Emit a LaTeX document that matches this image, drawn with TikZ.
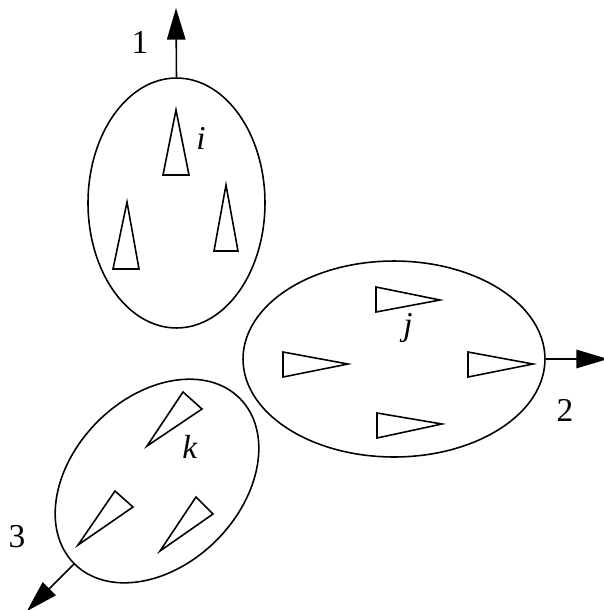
\documentclass[tikz,border=0pt]{standalone}
\usepackage{fontspec}
\setmainfont{Liberation Serif}
\usetikzlibrary{shapes.geometric, arrows.meta}

\begin{document}
\begin{tikzpicture}[
    x=0.02cm, y=-0.02cm,
    line width=0.9pt,
    font=\fontsize{19}{22}\selectfont,
    group/.style={ellipse, draw=black, inner sep=0pt},
    tri/.style={draw=black, line join=miter},
    flow/.style={-{Triangle[length=18pt, width=10.5pt]}},
    lab/.style={inner sep=0pt}
]
    \useasboundingbox (0,0) rectangle (604,610);
    % the three groups
    \node[group, minimum width=3.54cm, minimum height=5cm] (groupi) at (176.5,203) {};
    \node[group, minimum width=6.04cm, minimum height=3.92cm] (groupj) at (394,359) {};
    \node[group, minimum width=4.68cm, minimum height=3.36cm, rotate=45] (groupk) at (157,481) {};
    % outputs
    \coordinate (tip1) at (176,8);
    \coordinate (tip2) at (608,359);
    \coordinate (tip3) at (27,611);
    \draw[flow] (groupi.north) -- (tip1);
    \draw[flow] (groupj.east) -- (tip2);
    \draw[flow] (groupk.west) -- (tip3);
    \node[lab] (lab1) at (140,42) {1};
    \node[lab] (lab2) at (565,410) {2};
    \node[lab] (lab3) at (17,537) {3};
    % members of group i
    \draw[tri] (176,110) -- (163,175) -- (189,175) -- cycle;
    \draw[tri] (127,202) -- (113,269) -- (139,269) -- cycle;
    \draw[tri] (226,185) -- (214,251) -- (238,251) -- cycle;
    \node[lab] (labi) at (201,138) {\textit{i}};
    % members of group j
    \draw[tri] (440,300) -- (376,287) -- (376,312) -- cycle;
    \draw[tri] (348,364) -- (283,352) -- (283,377) -- cycle;
    \draw[tri] (533,364) -- (468,352) -- (468,377) -- cycle;
    \draw[tri] (442,424) -- (377,413) -- (377,438) -- cycle;
    \node[lab] (labj) at (408,328) {\textit{j}};
    % members of group k
    \draw[tri] (147,446) -- (183,392) -- (202,409) -- cycle;
    \draw[tri] (78,545) -- (115,491) -- (133,507) -- cycle;
    \draw[tri] (160,551) -- (196,497) -- (213,514) -- cycle;
    \node[lab] (labk) at (190,447) {\textit{k}};
\end{tikzpicture}
\end{document}
